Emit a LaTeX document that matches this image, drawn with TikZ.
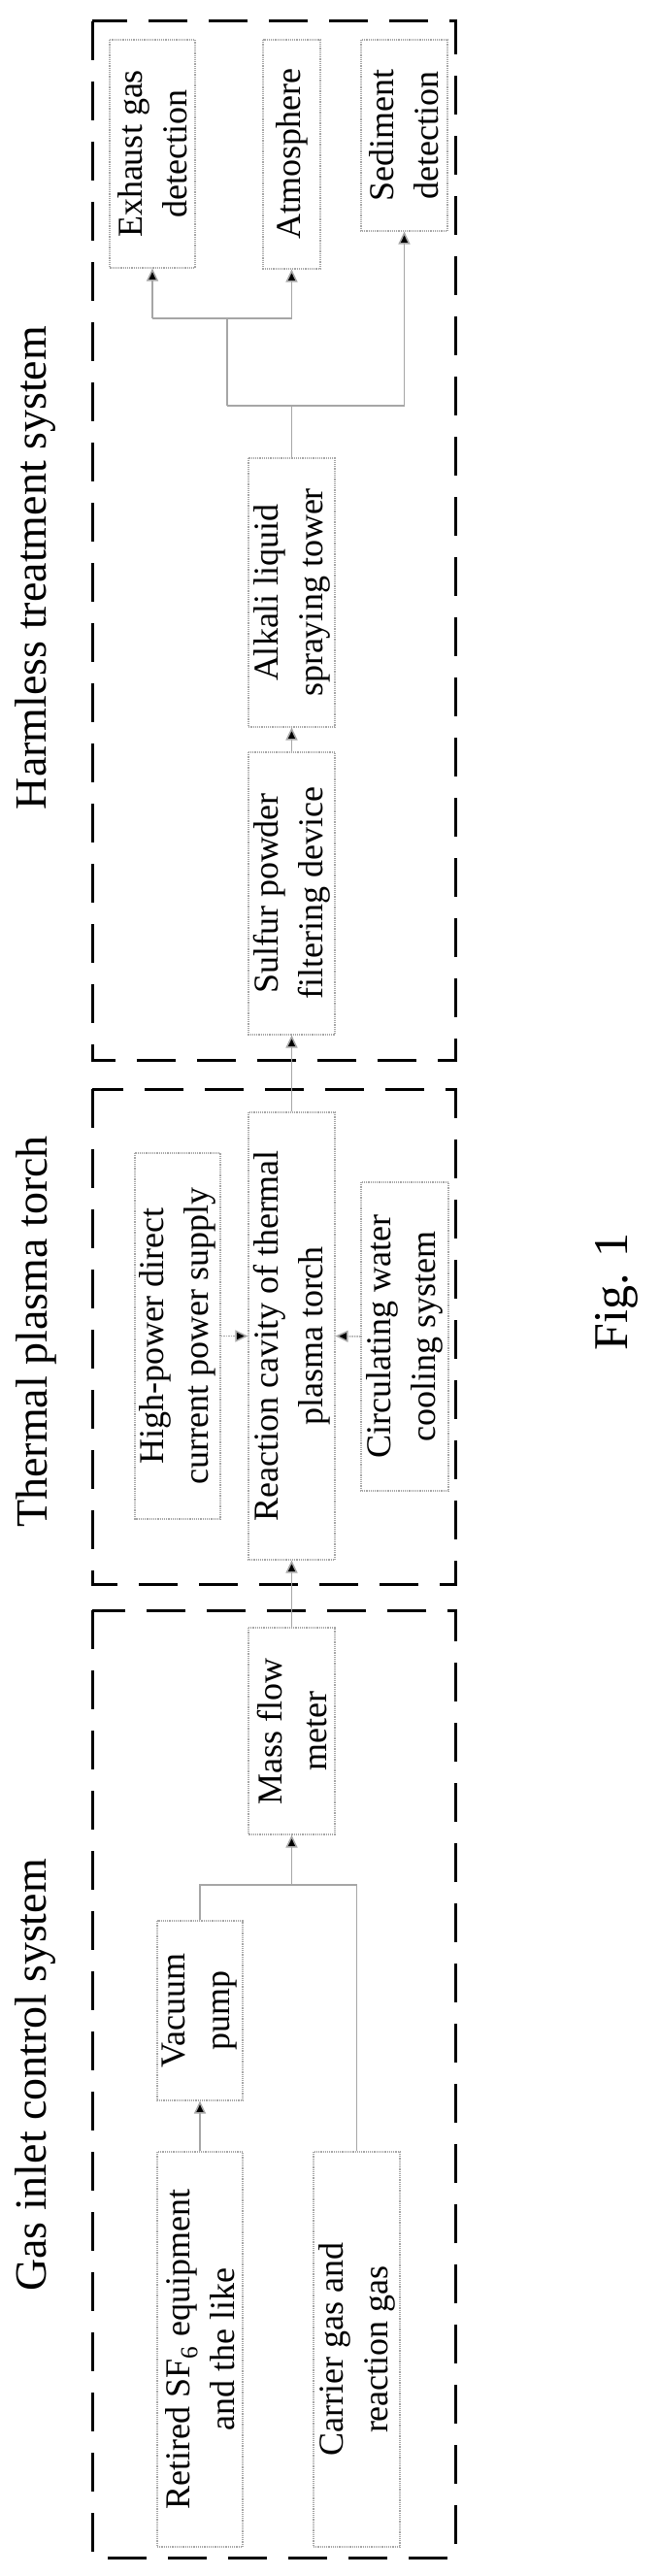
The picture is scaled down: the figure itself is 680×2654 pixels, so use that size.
\documentclass[tikz,border=0pt]{standalone}
\usepackage{fontspec}
\setmainfont{Liberation Serif}
\usetikzlibrary{arrows.meta, calc}

\begin{document}
\begin{tikzpicture}[x=1pt, y=-1pt,
    box/.style={draw=gray!70, line width=1.2pt, densely dotted, rotate=90, align=center,
        inner sep=0pt, font=\fontsize{36}{46}\selectfont},
    title/.style={rotate=90, font=\fontsize{46}{50}\selectfont},
    frame/.style={line width=3pt, dash pattern=on 40pt off 22pt},
    link/.style={draw=gray!70, line width=1.5pt},
    flow/.style={link, -{Triangle[length=13pt, width=12pt, fill=black]}}
]
    \useasboundingbox (0,0) rectangle (680,2654);

    % frames
    \draw [frame] (95,22) rectangle (469,1092);
    \draw [frame] (95,1122) rectangle (469,1632);
    \draw [frame] (95,1659) rectangle (469,2635);

    % titles
    \node (tHarm) [title] at (37,585) {Harmless treatment system};
    \node (tTorch) [title] at (37,1372) {Thermal plasma torch};
    \node (tGas) [title] at (37,2138) {Gas inlet control system};
    \node (fig) [title, font=\fontsize{50}{54}\selectfont] at (635,1331) {Fig. 1};

    % harmless treatment system
    \node (exh) [box, minimum width=235pt, minimum height=88pt] at (157,158.5) {Exhaust gas\\detection};
    \node (atm) [box, minimum width=236pt, minimum height=59pt] at (300.5,159) {Atmosphere};
    \node (sed) [box, minimum width=197pt, minimum height=89pt] at (416.5,139.5) {Sediment\\detection};
    \node (alk) [box, minimum width=277pt, minimum height=89pt] at (300.5,610.5) {Alkali liquid\\spraying tower};
    \node (sul) [box, minimum width=291pt, minimum height=89pt] at (300.5,920.5) {Sulfur powder\\filtering device};

    % thermal plasma torch
    \node (rea) [box, minimum width=461pt, minimum height=89pt] at (300.5,1376.5) {Reaction cavity of thermal\\plasma torch};
    \node (hp) [box, minimum width=377pt, minimum height=88pt] at (183,1376.5) {High-power direct\\current power supply};
    \node (cool) [box, minimum width=318pt, minimum height=90pt] at (417,1377) {Circulating water\\cooling system};

    % gas inlet control system
    \node (mass) [box, minimum width=213pt, minimum height=89pt] at (300.5,1783.5) {Mass flow\\meter};
    \node (vac) [box, minimum width=185pt, minimum height=88pt] at (206,2071.5) {Vacuum\\pump};
    \node (ret) [box, minimum width=407pt, minimum height=88pt] at (206,2420.5) {Retired SF\textsubscript{6} equipment\\and the like};
    \node (car) [box, minimum width=407pt, minimum height=89pt] at (367.5,2420.5) {Carrier gas and\\reaction gas};

    % branches
    \coordinate (jA) at (234,418);
    \coordinate (jB) at (234,328);
    \coordinate (jC) at (300.5,1942);
    \draw [link] (alk.east) -- (alk.east |- jA);
    \draw [link] (jA) -- (jA -| sed.west) coordinate (jA2);
    \draw [flow] (jA2) -- (sed.west);
    \draw [link] (jA) -- (jB);
    \draw [link] (exh.west |- jB) -- (atm.west |- jB);
    \draw [flow] (exh.west |- jB) -- (exh.west);
    \draw [flow] (atm.west |- jB) -- (atm.west);
    \draw [flow] (sul.east) -- (alk.west);

    \draw [flow] (rea.east) -- (sul.west);
    \draw [flow, densely dotted] (hp.south) -- (rea.north);
    \draw [flow, densely dotted] (cool.north) -- (rea.south);
    \draw [flow] (mass.east) -- (rea.west);

    \draw [flow] (ret.east) -- (vac.west);
    \draw [link] (vac.east) -- (vac.east |- jC) -- (car.east |- jC) -- (car.east);
    \draw [flow] (jC) -- (mass.west);
\end{tikzpicture}
\end{document}
